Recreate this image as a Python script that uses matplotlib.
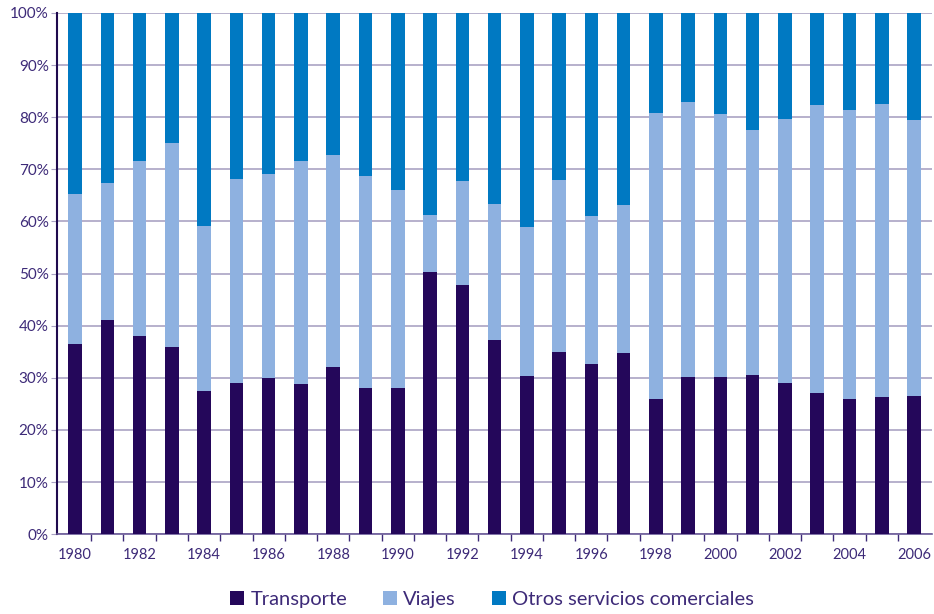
import matplotlib
matplotlib.use("Agg")
import matplotlib.pyplot as plt
import numpy as np
from matplotlib.ticker import FixedLocator, PercentFormatter

years = list(range(1980, 2007))

# share of each component (%)
transporte = [36.5, 41.0, 38.0, 36.0, 27.5, 29.0, 30.0, 28.8, 32.0, 28.0,
              28.0, 50.3, 47.8, 37.3, 30.3, 35.0, 32.6, 34.8, 26.0, 30.2,
              30.2, 30.6, 29.0, 27.0, 26.0, 26.3, 26.5]
# cumulative top of "Viajes"
viajes_top = [65.3, 67.4, 71.5, 75.0, 59.2, 68.2, 69.0, 71.5, 72.8, 68.7,
              66.1, 61.2, 67.8, 63.4, 59.0, 68.0, 61.0, 63.1, 80.8, 83.0,
              80.6, 77.5, 79.6, 82.4, 81.3, 82.6, 79.4]

viajes = [v - t for v, t in zip(viajes_top, transporte)]
otros = [100 - v for v in viajes_top]

c_trans = '#24075a'
c_viaj = '#8eb1e0'
c_otros = '#0079c2'
txt = '#3d2a78'
grid = '#aaa3c4'

plt.rcParams['font.family'] = ['Lato', 'DejaVu Sans']

fig = plt.figure(figsize=(9.34, 6.14), dpi=100)
ax = fig.add_axes([0.061, 0.130, 0.937, 0.849])

x = np.arange(len(years))
w = 0.42
ax.bar(x, transporte, w, color=c_trans, label='Transporte', zorder=3)
ax.bar(x, viajes, w, bottom=transporte, color=c_viaj, label='Viajes', zorder=3)
ax.bar(x, otros, w, bottom=viajes_top, color=c_otros,
       label='Otros servicios comerciales', zorder=3)

ax.set_xlim(-0.56, len(years) - 0.44)
ax.set_ylim(0, 100)
ax.set_yticks(range(0, 101, 10))
ax.yaxis.set_major_formatter(PercentFormatter(decimals=0))
ax.set_xticks(x[::2])
ax.set_xticklabels([str(y) for y in years[::2]])
ax.xaxis.set_minor_locator(FixedLocator(x[:-1] + 0.5))
ax.tick_params(axis='x', which='major', length=0, pad=10, labelsize=10.5, labelcolor=txt)
ax.tick_params(axis='x', which='minor', length=5, color=txt, width=1)
ax.tick_params(axis='y', length=4, color=grid, labelsize=11, labelcolor=txt, pad=2)

ax.grid(axis='y', color=grid, linewidth=1.2, zorder=0)
for s in ['top', 'right']:
    ax.spines[s].set_visible(False)
ax.spines['left'].set_color('#1f0a4e')
ax.spines['left'].set_linewidth(1.5)
ax.spines['bottom'].set_color('#6a5a98')
ax.spines['bottom'].set_linewidth(1.2)

leg = fig.legend(loc='lower center', bbox_to_anchor=(0.527, -0.02), ncol=3,
                 frameon=False, fontsize=14.5, handlelength=0.7, handleheight=0.7,
                 handletextpad=0.3, columnspacing=1.8)
for t in leg.get_texts():
    t.set_color(txt)

fig.savefig('out.png', dpi=100)
